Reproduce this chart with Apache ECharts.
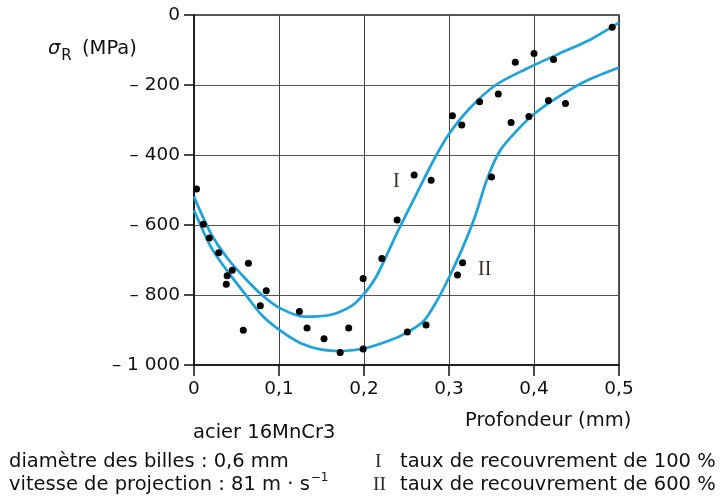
<!DOCTYPE html>
<html><head><meta charset="utf-8">
<script src="https://cdn.jsdelivr.net/npm/echarts@6/dist/echarts.min.js"></script>
<style>html,body{margin:0;padding:0;background:#fff}#c{width:720px;height:496px}</style>
</head><body><div id="c"></div>
<script>
// ---- data ----
const xMin = 0, xMax = 0.5, xStep = 0.1;
const yMin = -1000, yMax = 0, yStep = 200;
const pointsX = [0.003,0.011,0.018,0.029,0.038,0.039,0.045,0.058,0.064,0.078,0.085,0.124,0.133,0.153,0.172,0.182,0.199,0.199,0.221,0.239,0.251,0.259,0.273,0.279,0.304,0.310,0.315,0.316,0.336,0.350,0.358,0.373,0.378,0.394,0.400,0.417,0.423,0.437,0.492];
const pointsY = [-497,-598,-637,-679,-769,-745,-729,-901,-709,-831,-788,-847,-894,-925,-964,-894,-954,-753,-696,-586,-906,-457,-886,-472,-288,-743,-314,-708,-248,-463,-226,-307,-135,-290,-110,-244,-127,-253,-35];
const curveIX = [0,0.02,0.04,0.06,0.08,0.10,0.13,0.16,0.185,0.20,0.215,0.24,0.262,0.283,0.30,0.325,0.355,0.39,0.43,0.465,0.5];
const curveIY = [-519,-625,-697,-752,-800,-836,-862,-857,-832,-797,-745,-617,-510,-410,-340,-265,-200,-155,-110,-72,-22];
const curveIIX = [0,0.02,0.04,0.06,0.08,0.10,0.125,0.15,0.175,0.20,0.23,0.25,0.27,0.285,0.30,0.315,0.33,0.345,0.36,0.38,0.40,0.43,0.46,0.5];
const curveIIY = [-557,-663,-734,-797,-858,-899,-937,-956,-960,-953,-930,-908,-875,-820,-750,-671,-580,-468,-388,-330,-283,-232,-190,-150];
const yTitle = ['σ', 'R', '(MPa)'];
const xTitle = 'Profondeur (mm)';
const steelLabel = 'acier 16MnCr3';
const notesLeft = ['diamètre des billes : 0,6 mm', 'vitesse de projection : 81 m · s', '−1'];
const notesRight = [['I', 'taux de recouvrement de 100 %'], ['II', 'taux de recouvrement de 600 %']];
const curveLabels = ['I', 'II'];

// ---- chart ----
const FF = '"DejaVu Sans", sans-serif';
const SERIF = '"Liberation Serif", "DejaVu Serif", serif';
const FS = 19.5;
const TXT = '#111';
const BLUE = '#1ba3de';
const zip = (xs, ys) => xs.map((x, i) => [x, ys[i]]);
const ctx = document.createElement('canvas').getContext('2d');
function tw(t, font) { ctx.font = font; return ctx.measureText(t).width; }

const chart = echarts.init(document.getElementById('c'), null, {renderer: 'canvas'});
const grid = {left: 194, top: 15, width: 425, height: 350};

const mainFont = FS + 'px ' + FF;
const sigmaW = tw(yTitle[0], 'italic ' + FS + 'px ' + FF);
const sLineW = tw(notesLeft[1], mainFont);

const graphics = [
  {type: 'text', x: 48, y: 49, style: {text: yTitle[0], font: 'italic ' + FS + 'px ' + FF, fill: TXT, textVerticalAlign: 'middle'}},
  {type: 'text', x: 48 + sigmaW + 1, y: 56, style: {text: yTitle[1], font: '15px ' + FF, fill: TXT, textVerticalAlign: 'middle'}},
  {type: 'text', x: 82, y: 49, style: {text: yTitle[2], font: mainFont, fill: TXT, textVerticalAlign: 'middle'}},
  {type: 'text', x: 465, y: 421, style: {text: xTitle, font: mainFont, fill: TXT, textVerticalAlign: 'middle'}},
  {type: 'text', x: 193, y: 433, style: {text: steelLabel, font: mainFont, fill: TXT, textVerticalAlign: 'middle'}},
  {type: 'text', x: 9, y: 462, style: {text: notesLeft[0], font: mainFont, fill: TXT, textVerticalAlign: 'middle'}},
  {type: 'text', x: 9, y: 485, style: {text: notesLeft[1], font: mainFont, fill: TXT, textVerticalAlign: 'middle'}},
  {type: 'text', x: 9 + sLineW + 1, y: 478, style: {text: notesLeft[2], font: '12px ' + FF, fill: TXT, textVerticalAlign: 'middle'}},
  {type: 'text', x: 375, y: 462, style: {text: notesRight[0][0], font: FS + 'px ' + SERIF, fill: '#2a2a2a', textVerticalAlign: 'middle'}},
  {type: 'text', x: 400, y: 462, style: {text: notesRight[0][1], font: mainFont, fill: TXT, textVerticalAlign: 'middle'}},
  {type: 'text', x: 373, y: 485, style: {text: notesRight[1][0], font: FS + 'px ' + SERIF, fill: '#2a2a2a', textVerticalAlign: 'middle'}},
  {type: 'text', x: 400, y: 485, style: {text: notesRight[1][1], font: mainFont, fill: TXT, textVerticalAlign: 'middle'}}
];

chart.setOption({
  animation: false,
  backgroundColor: '#fff',
  grid: Object.assign({show: true, borderColor: '#222', borderWidth: 1.5, containLabel: false}, grid),
  xAxis: {
    type: 'value', min: xMin, max: xMax, interval: xStep,
    axisLine: {show: true, onZero: false, lineStyle: {color: '#111', width: 1.5}},
    axisTick: {show: true, inside: false, length: 11, lineStyle: {color: '#111', width: 1.5}},
    axisLabel: {margin: 15, color: TXT, fontFamily: FF, fontSize: 18.5,
      formatter: v => v === 0 ? '0' : v.toFixed(1).replace('.', ',')},
    splitLine: {show: true, lineStyle: {color: '#444', width: 1}}
  },
  yAxis: {
    type: 'value', min: yMin, max: yMax, interval: yStep,
    axisLine: {show: true, onZero: false, lineStyle: {color: '#111', width: 1.5}},
    axisTick: {show: true, inside: false, length: 10, lineStyle: {color: '#111', width: 1.5}},
    axisLabel: {margin: 14, color: TXT, fontFamily: FF, fontSize: 18.5,
      formatter: v => v === 0 ? '0' : '– ' + String(Math.abs(v)).replace(/\B(?=(\d{3})+(?!\d))/g, ' ')},
    splitLine: {show: true, lineStyle: {color: '#555', width: 1}}
  },
  graphic: graphics,
  series: [
    {type: 'line', data: zip(curveIX, curveIY), smooth: 0.3, showSymbol: false, symbol: 'none',
      lineStyle: {color: BLUE, width: 2.7}, z: 3,
      markPoint: {symbol: 'circle', symbolSize: 0, data: [{coord: [0.238, -475], value: curveLabels[0]}],
        label: {show: true, formatter: curveLabels[0], fontFamily: SERIF, fontSize: 20, color: '#3a2f25'}}},
    {type: 'line', data: zip(curveIIX, curveIIY), smooth: 0.3, showSymbol: false, symbol: 'none',
      lineStyle: {color: BLUE, width: 2.7}, z: 3,
      markPoint: {symbol: 'circle', symbolSize: 0, data: [{coord: [0.342, -728], value: curveLabels[1]}],
        label: {show: true, formatter: curveLabels[1], fontFamily: SERIF, fontSize: 20, color: '#3a2f25'}}},
    {type: 'scatter', data: zip(pointsX, pointsY), symbol: 'circle', symbolSize: 7,
      itemStyle: {color: '#000', opacity: 1}, z: 4}
  ]
});
</script>
</body></html>
